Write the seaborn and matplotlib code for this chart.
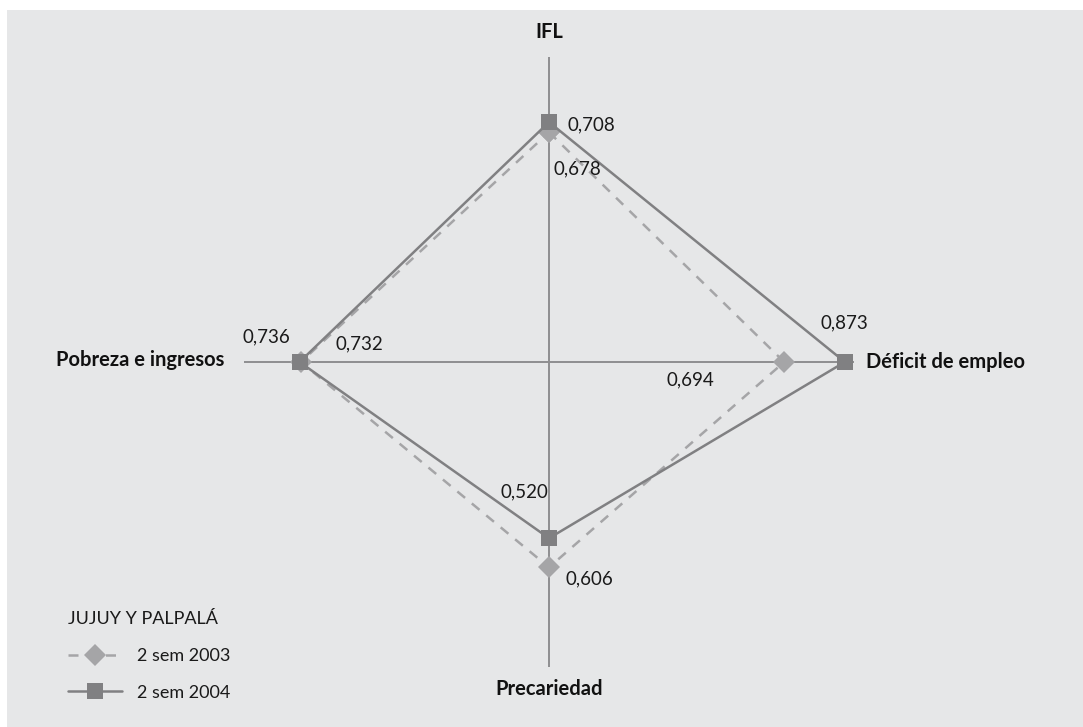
import numpy as np
import pandas as pd
import matplotlib
matplotlib.use('Agg')
import matplotlib.pyplot as plt
from matplotlib.patches import Rectangle
import seaborn as sns

# datos: Jujuy y Palpalá
categorias = ['IFL', 'Déficit de empleo', 'Precariedad', 'Pobreza e ingresos']
series = ['2 sem 2003', '2 sem 2004']
v2003 = [0.678, 0.694, 0.606, 0.732]
v2004 = [0.708, 0.873, 0.520, 0.736]
etiq2003 = ['0,678', '0,694', '0,606', '0,732']
etiq2004 = ['0,708', '0,873', '0,520', '0,736']
titulo_leyenda = 'JUJUY Y PALPALÁ'
r_max = 0.9

sns.set_style('white')
plt.rcParams['font.family'] = ['Lato', 'DejaVu Sans']

ang = np.arange(len(categorias)) * 2 * np.pi / len(categorias)
ang_c = np.append(ang, 2 * np.pi)  # cerrar el poligono

df = pd.concat([
    pd.DataFrame({'theta': ang_c, 'valor': v2003 + v2003[:1], 'serie': series[0]}),
    pd.DataFrame({'theta': ang_c, 'valor': v2004 + v2004[:1], 'serie': series[1]}),
], ignore_index=True)

colores = {series[0]: '#a5a5a7', series[1]: '#808082'}

fig = plt.figure(figsize=(10.83, 7.27), dpi=100)
fig.patch.set_facecolor('white')
fig.add_artist(Rectangle((7 / 1083, 0), 1, 1 - 10 / 727, transform=fig.transFigure,
                         facecolor='#e6e7e8', edgecolor='none', zorder=0))

ax = fig.add_axes([244 / 1083, 60 / 727, 610 / 1083, 610 / 727], projection='polar')
ax.set_facecolor('none')
ax.set_theta_offset(np.pi / 2)
ax.set_theta_direction(-1)
ax.set_ylim(0, r_max)

# ejes del radar
for a in ang:
    ax.plot([a, a], [0, r_max], color='#8e8e90', lw=1.4, zorder=1)

sns.lineplot(data=df, x='theta', y='valor', hue='serie', style='serie',
             hue_order=series, style_order=series, palette=colores,
             markers={series[0]: 'D', series[1]: 's'},
             dashes={series[0]: (4, 3.5), series[1]: ''},
             sort=False, estimator=None, markersize=11, markeredgewidth=0,
             linewidth=1.8, ax=ax, zorder=3)

ax.grid(False)
ax.spines['polar'].set_visible(False)
ax.set_xticks([])
ax.set_yticks([])
ax.set_xlabel('')
ax.set_ylabel('')

# etiquetas de categorias
pos_cat = [((0, 15), 'center', 'bottom'), ((12, 0), 'left', 'center'),
           ((0, -12), 'center', 'top'), ((-20, 2), 'right', 'center')]
for a, c, (off, ha, va) in zip(ang, categorias, pos_cat):
    ax.annotate(c, xy=(a, r_max), xytext=off, textcoords='offset pixels',
                ha=ha, va=va, fontsize=14.5, fontweight='bold', color='#111111')

# etiquetas de valores
off2004 = [((18, -3), 'left'), ((0, 39), 'center'), ((-1, 46), 'right'), ((-9, 25), 'right')]
off2003 = [((4, -37), 'left'), ((-70, -18), 'right'), ((17, -12), 'left'), ((35, 18), 'left')]
for a, v, t, (off, ha) in zip(ang, v2004, etiq2004, off2004):
    ax.annotate(t, xy=(a, v), xytext=off, textcoords='offset pixels',
                ha=ha, va='center', fontsize=13.5, color='#1a1a1a')
for a, v, t, (off, ha) in zip(ang, v2003, etiq2003, off2003):
    ax.annotate(t, xy=(a, v), xytext=off, textcoords='offset pixels',
                ha=ha, va='center', fontsize=13.5, color='#1a1a1a')

handles, labels = ax.get_legend_handles_labels()
ax.get_legend().remove()
leg = fig.legend(handles, labels, title=titulo_leyenda, loc='upper left',
                 bbox_to_anchor=(52 / 1083, 1 - 595 / 727), frameon=False,
                 fontsize=13, title_fontsize=13, alignment='left',
                 handlelength=3.0, handletextpad=0.8, labelspacing=1.15)
for t in leg.get_texts():
    t.set_color('#1a1a1a')
leg.get_title().set_color('#1a1a1a')

fig.savefig('out.png', dpi=100)
